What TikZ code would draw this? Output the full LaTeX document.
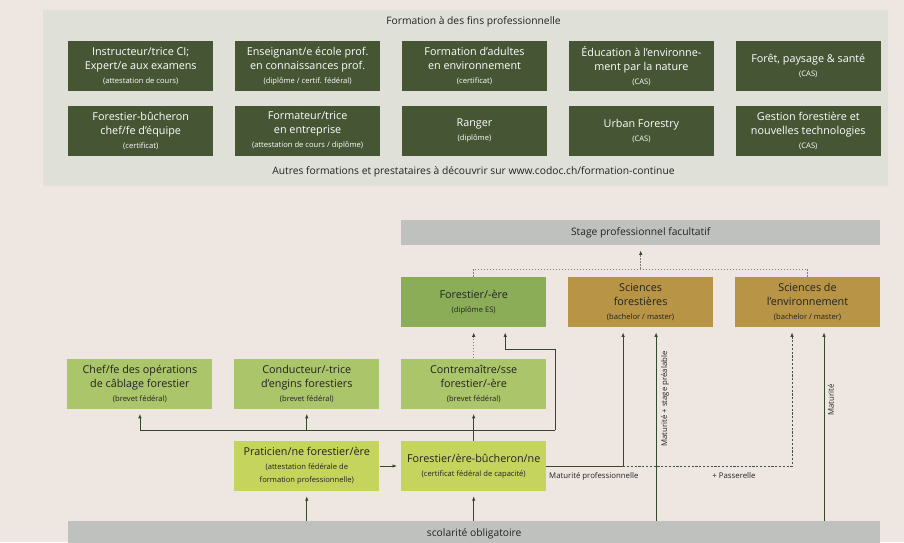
\documentclass[tikz,border=0pt]{standalone}
\usepackage{fontspec}
\setmainfont{Open Sans}
\usetikzlibrary{positioning,arrows.meta}

\definecolor{beige}{HTML}{EEE6E0}
\definecolor{panelgrey}{HTML}{DFE0D8}
\definecolor{darkgreen}{HTML}{465634}
\definecolor{esgreen}{HTML}{8BAD58}
\definecolor{ochre}{HTML}{B79446}
\definecolor{lightgreen}{HTML}{ABC56B}
\definecolor{lime}{HTML}{C5D45C}
\definecolor{stonegrey}{HTML}{BFC1BF}
\definecolor{linegreen}{HTML}{34492C}
\definecolor{dotgrey}{HTML}{7E8079}
\definecolor{inkgrey}{HTML}{222222}

\newcommand{\detail}[1]{{\fontsize{7.6}{13}\selectfont #1}}

\begin{document}
\begin{tikzpicture}[x=1pt,y=-1pt,node distance=14pt and 21.5pt,>={Latex[length=4.5pt,width=3.5pt]},font=\fontsize{10.8}{14}\selectfont]

	\tikzstyle{box}=[minimum width=145pt,minimum height=50pt,inner sep=0pt,align=center]
	\tikzstyle{dark}=[box,fill=darkgreen,text=white]
	\tikzstyle{es}=[box,fill=esgreen,text=inkgrey]
	\tikzstyle{uni}=[box,fill=ochre,text=inkgrey]
	\tikzstyle{brevet}=[box,fill=lightgreen,text=inkgrey]
	\tikzstyle{basic}=[box,fill=lime,text=inkgrey]
	\tikzstyle{band}=[fill=stonegrey,text=inkgrey,minimum height=25pt,inner sep=0pt,font=\fontsize{10.3}{12}\selectfont]
	\tikzstyle{heading}=[text=inkgrey,font=\fontsize{10.3}{12}\selectfont]
	\tikzstyle{link}=[draw=linegreen,line width=0.8pt]
	\tikzstyle{arrow}=[link,->,shorten >=5pt]
	\tikzstyle{dots}=[draw=dotgrey,line width=0.8pt,dash pattern=on 1.6pt off 1.4pt]
	\tikzstyle{dotarrow}=[dots,-{Latex[length=4.5pt,width=3.5pt,color=linegreen]},shorten >=5pt]
	\tikzstyle{lbl}=[font=\fontsize{7.8}{9}\selectfont,text=inkgrey,inner sep=1pt]

	\fill[beige] (0,0) rectangle (904,542);
	\useasboundingbox (0,0) rectangle (904,542);
	\fill[panelgrey] (43,10) rectangle (888,186);

	% further training
	\node[heading] (title) at (473.5,22) {Formation à des fins professionnelle};
	\node[dark,anchor=north west] (ci) at (68,41) {Instructeur/trice CI;\\Expert/e aux examens\\\detail{(attestation de cours)}};
	\node[dark,right=of ci] (ens) {Enseignant/e école prof.\\en connaissances prof.\\\detail{(diplôme / certif. fédéral)}};
	\node[dark,right=of ens] (adultes) {Formation d’adultes\\en environnement\\\detail{(certificat)}};
	\node[dark,right=of adultes] (envnat) {Éducation à l’environne-\\ment par la nature\\\detail{(CAS)}};
	\node[dark,right=of envnat] (sante) {Forêt, paysage \& santé\\\detail{(CAS)}};
	\node[dark,below=of ci] (chefequipe) {Forestier-bûcheron\\chef/fe d’équipe\\\detail{(certificat)}};
	\node[dark,right=of chefequipe] (formateur) {Formateur/trice\\en entreprise\\\detail{(attestation de cours / diplôme)}};
	\node[dark,right=of formateur] (ranger) {Ranger\\\detail{(diplôme)}};
	\node[dark,right=of ranger] (urban) {Urban Forestry\\\detail{(CAS)}};
	\node[dark,right=of urban] (gestion) {Gestion forestière et\\nouvelles technologies\\\detail{(CAS)}};
	\node[heading] (more) at (473.5,172) {Autres formations et prestataires à découvrir sur www.codoc.ch/formation-continue};

	% career paths
	\node[band,minimum width=479pt,anchor=north west] (stage) at (401,220) {Stage professionnel facultatif};
	\node[es,anchor=north west] (forestier) at (401,277) {Forestier/-ère\\\detail{(diplôme ES)}};
	\node[uni,right=of forestier] (scforet) {Sciences\\forestières\\\detail{(bachelor / master)}};
	\node[uni,right=of scforet] (scenv) {Sciences de\\l’environnement\\\detail{(bachelor / master)}};
	\node[brevet,below=31pt of forestier] (contremaitre) {Contremaître/sse\\forestier/-ère\\\detail{(brevet fédéral)}};
	\node[brevet,left=of contremaitre] (conducteur) {Conducteur/-trice\\d’engins forestiers\\\detail{(brevet fédéral)}};
	\node[brevet,left=of conducteur] (cablage) {Chef/fe des opérations\\de câblage forestier\\\detail{(brevet fédéral)}};
	\node[basic,below=32pt of contremaitre] (bucheron) {Forestier/ère-bûcheron/ne\\\detail{(certificat fédéral de capacité)}};
	\node[basic,left=of bucheron] (praticien) {Praticien/ne forestier/ère\\\detail{(attestation fédérale de}\\[-1.5pt]\detail{formation professionnelle)}};
	\node[band,minimum width=812pt,anchor=north west] (scolarite) at (68,521) {scolarité obligatoire};

	% from school
	\draw[arrow] (praticien.south |- scolarite.north) -- (praticien.south);
	\draw[arrow] (bucheron.south |- scolarite.north) -- (bucheron.south);
	\draw[arrow,shorten >=4pt] (praticien.east) -- (bucheron.west);

	% brevets and ES
	\coordinate (rail) at (555,430);
	\coordinate (bend) at (555,349);
	\draw[link] (bucheron.north) -- (bucheron.north |- rail);
	\draw[arrow] (rail) -- (rail -| cablage.south) -- (cablage.south);
	\draw[arrow] (rail -| conducteur.south) -- (conducteur.south);
	\draw[arrow] (rail -| contremaitre.south) -- (contremaitre.south);
	\draw[arrow] (rail) -- (bend) -| ([xshift=31.5pt]forestier.south);
	\draw[dotarrow] (contremaitre.north) -- (forestier.south);

	% internship
	\coordinate (dotrow) at (0,269);
	\draw[dots] (forestier.north) -- (forestier.north |- dotrow) -- (scenv.north |- dotrow) -- (scenv.north);
	\draw[dotarrow] (stage.south |- dotrow) -- (stage.south);

	% universities
	\coordinate (passe) at ([xshift=-17.5pt]scforet.south |- bucheron.east);
	\draw[arrow] (bucheron.east) -- (passe) -- ([xshift=-17.5pt]scforet.south);
	\draw[dotarrow,draw=linegreen!80!gray,dash pattern=on 2.2pt off 1.6pt] (passe) -| ([xshift=-15.5pt]scenv.south);
	\draw[arrow] ([xshift=15.5pt]scforet.south |- scolarite.north) -- ([xshift=15.5pt]scforet.south);
	\draw[arrow] ([xshift=16.5pt]scenv.south |- scolarite.north) -- ([xshift=16.5pt]scenv.south);

	\node[lbl,anchor=west] (matpro) at (548,476) {Maturité professionnelle};
	\node[lbl] (passerelle) at (734,476) {+ Passerelle};
	\node[lbl,rotate=90] (matstage) at (665,399) {Maturité + stage préalable};
	\node[lbl,rotate=90] (maturite) at (831,400) {Maturité};
\end{tikzpicture}
\end{document}
